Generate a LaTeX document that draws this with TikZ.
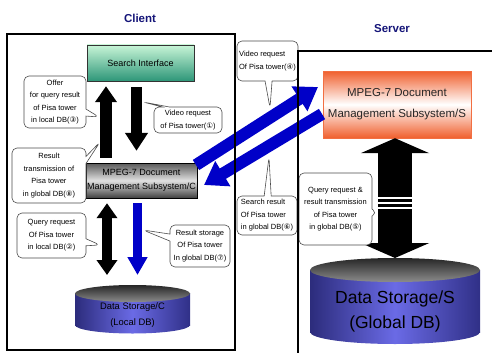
\documentclass[tikz,border=0pt]{standalone}
\usepackage{fontspec}
\setmainfont{Liberation Sans}
\newfontfamily\symfont{DejaVu Sans}
\usepackage{xcolor}
\usepackage{tikz}
\usetikzlibrary{shapes.callouts, arrows.meta}
\definecolor{navytitle}{RGB}{20, 20, 120}
\definecolor{arrowblue}{RGB}{0, 0, 200}
\definecolor{mintlight}{RGB}{200, 245, 215}
\definecolor{mintdark}{RGB}{45, 150, 120}
\definecolor{mgrorange}{RGB}{240, 95, 45}
\definecolor{dbblue}{RGB}{80, 80, 225}
\newcommand{\cnum}[1]{{\symfont #1}}

\begin{document}
\begin{tikzpicture}[x=1pt, y=-1pt,
  every node/.style={inner sep=1pt},
  title/.style={font=\bfseries\fontsize{11.5}{14}\selectfont, text=navytitle},
  note/.style={rectangle callout, draw=black!70, line width=0.6pt, fill=white,
    rounded corners=5pt, callout pointer width=7pt, align=center,
    font=\fontsize{7.5}{12.5}\selectfont},
  frame/.style={line width=1.6pt},
  dbbody/.style={left color=dbblue!55!black, right color=dbblue!60!black, middle color=dbblue!85!white},
  dbtop/.style={top color=black!85, bottom color=black!45},
  bigarrow/.style={line cap=butt}]
\useasboundingbox (0,0) rectangle (492,353);

% Titles
\node[title] (clientlbl) at (140,18) {Client};
\node[title] (serverlbl) at (392,29) {Server};

% Client subsystems
\node[draw=black!80, top color=mintlight, bottom color=mintdark, minimum width=107pt, minimum height=36pt,
  font=\fontsize{9}{11}\selectfont] (search) at (140.5,63) {Search Interface};
\node[draw=black, top color=black!65, bottom color=black!75, middle color=black!12, minimum width=111pt,
  minimum height=35pt, align=center, font=\fontsize{9}{14}\selectfont] (mgrc) at (141.5,180.5)
  {MPEG-7 Document\\Management Subsystem/C};

% Local DB
\shade[dbbody] (75,293.5) rectangle (190,325);
\shade[dbbody] (132.5,325) ellipse [x radius=57.5, y radius=8.5];
\shade[dbtop] (132.5,293.5) ellipse [x radius=57.5, y radius=8.5];
\node[align=center, font=\fontsize{9.4}{16}\selectfont] (dsc) at (132.5,315) {Data Storage/C\\(Local DB)};
\coordinate (dsctop) at (132.5,285);

% Server subsystem
\node[draw=mgrorange!90, top color=mgrorange, bottom color=mgrorange, middle color=white, minimum width=148pt,
  minimum height=67pt, align=center, font=\fontsize{11.5}{21}\selectfont, text=black!85] (mgrs) at (397,104.5)
  {MPEG-7 Document\\Management Subsystem/S};

% Global DB
\shade[dbbody] (310,270) rectangle (480,332);
\shade[dbbody] (395,332) ellipse [x radius=85, y radius=12];
\shade[dbtop] (395,270) ellipse [x radius=85, y radius=12];
\node[align=center, font=\fontsize{17.5}{25}\selectfont] (dss) at (395,311) {Data Storage/S\\(Global DB)};
\coordinate (dsstop) at (395,258);

% Client arrows
\coordinate (upx) at (106,0);
\coordinate (dnx) at (136.5,0);
\coordinate (bothx) at (107,0);
\coordinate (bluex) at (137.5,0);
\draw[bigarrow, line width=12pt, -{Triangle[width=21pt,length=16pt]}, shorten <=5pt, shorten >=5pt]
  (mgrc.north -| upx) -- (search.south -| upx);
\draw[bigarrow, line width=11pt, -{Triangle[width=22pt,length=18pt]}, shorten <=6pt, shorten >=12pt]
  (search.south -| dnx) -- (mgrc.north -| dnx);
\draw[bigarrow, line width=10pt, {Triangle[width=20pt,length=15pt]}-{Triangle[width=20pt,length=15pt]},
  shorten <=5pt, shorten >=10pt] (mgrc.south -| bothx) -- (dsctop -| bothx);
\draw[bigarrow, arrowblue, line width=9pt, -{Triangle[width=19pt,length=18pt]}, shorten <=5pt, shorten >=10pt]
  (mgrc.south -| bluex) -- (dsctop -| bluex);

% Server arrow
\draw[bigarrow, line width=34pt, {Triangle[width=68pt,length=15pt]}-{Triangle[width=68pt,length=15pt]}]
  (mgrs.south -| dsstop) -- (dsstop);
\foreach \yy in {198,203,208}
  \draw[white, line width=1.5pt] (378,\yy) -- (412,\yy);

% Client <-> server
\coordinate (vreqa) at (196,165);
\coordinate (vreqb) at (318,87);
\coordinate (sresa) at (322,114);
\coordinate (sresb) at (204,185);
\draw[bigarrow, arrowblue, line width=12pt, -{Triangle[width=28pt,length=22pt]}] (vreqa) -- (vreqb);
\draw[bigarrow, arrowblue, line width=12pt, -{Triangle[width=28pt,length=22pt]}] (sresa) -- (sresb);

% Callouts
\node[note, minimum width=62pt, minimum height=52pt, callout absolute pointer={(99,117)}] (offer) at (55,102)
  {Offer\\for query result\\of Pisa tower\\in local DB(\cnum{③})};
\node[note, minimum width=68pt, minimum height=26pt, callout absolute pointer={(143,102)}] (vreqc) at (188,120)
  {Video request\\of Pisa tower(\cnum{①})};
\node[note, minimum width=74pt, minimum height=55pt, callout absolute pointer={(100,142)}] (restr) at (49,175.5)
  {Result\\transmission of\\Pisa tower\\in global DB(\cnum{⑧})};
\node[note, minimum width=69pt, minimum height=45pt, callout absolute pointer={(100,245)}] (qlocal) at (51.5,235.5)
  {Query request\\Of Pisa tower\\in local DB(\cnum{②})};
\node[note, minimum width=60pt, minimum height=42pt, callout absolute pointer={(143,230)}] (rstore) at (200,246)
  {Result storage\\Of Pisa tower\\In global DB(\cnum{⑦})};
\node[note, align=left, minimum width=61pt, minimum height=40pt, callout absolute pointer={(270,108)}] (vreqs) at (267.5,61)
  {Video request\\Of Pisa tower(\cnum{④})};
\node[note, align=left, minimum width=60pt, minimum height=39pt, callout absolute pointer={(269,157)}] (sres) at (267,215.5)
  {Search result\\Of Pisa tower\\in global DB(\cnum{⑥})};
\node[note, minimum width=73pt, minimum height=72pt, callout absolute pointer={(377,213)}] (qglobal) at (335.5,209)
  {Query request \&\\result transmission\\of Pisa tower\\in global DB(\cnum{⑤})};

% Frames
\draw[frame] (7,34) rectangle (235,350);
\draw[frame] (492,51) -- (298,51) -- (298,353);
\end{tikzpicture}
\end{document}
